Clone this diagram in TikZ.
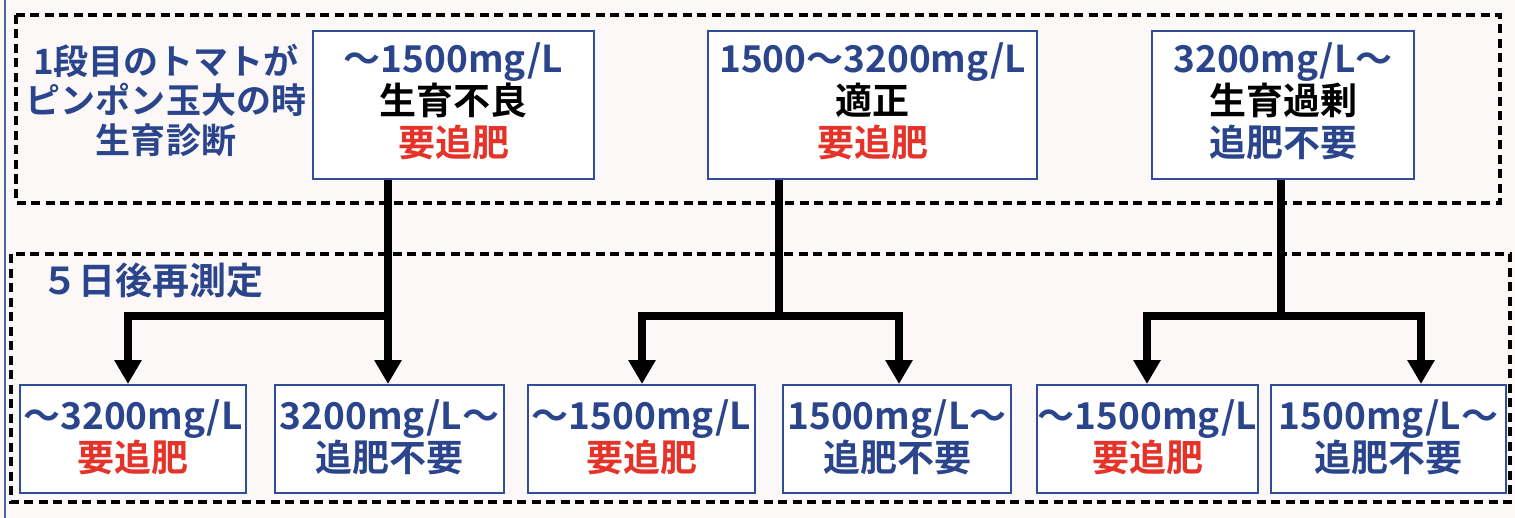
\documentclass[tikz,border=0pt]{standalone}
\usepackage{fontspec}
\newfontfamily\jp{Noto Sans CJK JP}[BoldFont={Noto Sans CJK JP Bold}]
\usetikzlibrary{arrows.meta}
\definecolor{bg}{HTML}{FBF8F7}
\definecolor{tblue}{HTML}{2B458C}
\definecolor{bblue}{HTML}{2E4D9A}
\definecolor{tred}{HTML}{E5332A}
\definecolor{edge}{HTML}{4A64A8}
\tikzset{
  x=1bp, y=-1bp,
  dashbox/.style={draw=black, line width=3.5bp, dash pattern=on 9bp off 5.5bp},
  sbox/.style={draw=bblue, line width=2bp, fill=white, anchor=north west, inner sep=0pt},
  conn/.style={line width=7.5bp, black},
  arr/.style={conn, -{Triangle[width=26bp,length=24bp]}},
  lbl/.style={font=\jp\bfseries\fontsize{37bp}{42bp}\selectfont, align=center, text=tblue},
}
\newcommand{\bx}[7]{% name, x1, y1, x2, y2, text, dy
  \node[sbox, minimum width=#4bp-#2bp, minimum height=#5bp-#3bp] (#1) at (#2,#3) {};
  \node[lbl] at ([yshift=#7bp]#1.center) {#6};}
\begin{document}
\begin{tikzpicture}
\useasboundingbox (0,0) rectangle (1515,518);
\fill[bg] (0,0) rectangle (1515,518);
\draw[edge, line width=2.2bp] (5,0) -- (5,518);
\draw[dashbox] (16,15) rectangle (1500,203);
\draw[dashbox] (11,254) rectangle (1510,502);

\node[lbl, font=\jp\bfseries\fontsize{35bp}{39.5bp}\selectfont] (title) at (166,100) {1段目のトマトが\\ピンポン玉大の時\\生育診断};
\node[lbl, anchor=west] (re) at (38,280) {５日後再測定};

\bx{t1}{312}{30}{593}{178}{～1500mg/L\\\textcolor{black}{生育不良}\\\textcolor{tred}{要追肥}}{4}
\bx{t2}{707}{30}{1036}{178}{1500～3200mg/L\\\textcolor{black}{適正}\\\textcolor{tred}{要追肥}}{4}
\bx{t3}{1151}{30}{1413}{178}{3200mg/L～\\\textcolor{black}{生育過剰}\\追肥不要}{4}

\bx{b1}{19}{384}{245}{492}{～3200mg/L\\\textcolor{tred}{要追肥}}{2}
\bx{b2}{274}{384}{503}{492}{3200mg/L～\\追肥不要}{2}
\bx{b3}{527}{384}{754}{492}{～1500mg/L\\\textcolor{tred}{要追肥}}{2}
\bx{b4}{782}{384}{1010}{492}{1500mg/L～\\追肥不要}{2}
\bx{b5}{1036}{384}{1257}{492}{～1500mg/L\\\textcolor{tred}{要追肥}}{2}
\bx{b6}{1270}{384}{1505}{492}{1500mg/L～\\追肥不要}{2}

\coordinate (j1) at (388,316);
\coordinate (j2) at (779,316);
\coordinate (j3) at (1281,316);
\coordinate (l1) at (128,316);

\draw[arr] (t1.south -| j1) -- (b2.north -| j1);
\draw[arr] (j1) -- (l1) -- (b1.north -| l1);
\draw[conn] (t2.south -| j2) -- (j2);
\draw[arr] (j2) -| (b3.north -| 642,0);
\draw[arr] (j2) -| (b4.north -| 899,0);
\draw[conn] (t3.south -| j3) -- (j3);
\draw[arr] (j3) -| (b5.north -| 1147,0);
\draw[arr] (j3) -| (b6.north -| 1421,0);
\end{tikzpicture}
\end{document}
